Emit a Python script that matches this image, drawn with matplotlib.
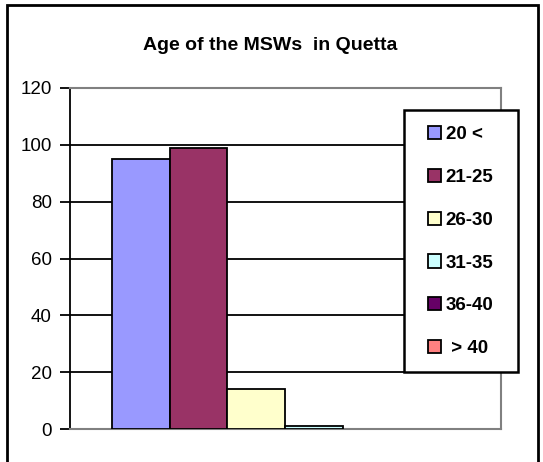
import matplotlib
matplotlib.use("Agg")
import matplotlib.pyplot as plt
from matplotlib.patches import Rectangle, Patch

plt.rcParams['font.family'] = ['Liberation Sans', 'DejaVu Sans']

# data
age_groups = ['20 <', '21-25', '26-30', '31-35', '36-40', ' > 40']
counts = [95, 99, 14, 1, 0, 0]
colors = ['#9999FF', '#993366', '#FFFFCC', '#CCFFFF', '#660066', '#FF8080']
y_ticks = [0, 20, 40, 60, 80, 100, 120]

fig = plt.figure(figsize=(5.43, 4.62), dpi=100)
ax = fig.add_axes([70 / 543, 33 / 462, 431 / 543, 341 / 462])

for i, (val, col) in enumerate(zip(counts, colors)):
    # Excel leaves zero bars invisible
    lw = 1.3 if val > 0 else 0
    ax.bar(i, val, width=1.0, color=col, edgecolor='black', linewidth=lw,
           zorder=3)

ax.set_ylim(0, 120)
ax.set_xlim(-0.5 - 42 / 58, 5.5 + 43 / 58)
ax.set_yticks(y_ticks)
ax.set_yticklabels([str(t) for t in y_ticks], fontsize=13.5)
ax.set_xticks([])
for t in y_ticks[1:-1]:
    ax.axhline(t, color='black', linewidth=1.3, zorder=1)

ax.spines['left'].set_color('black')
ax.spines['left'].set_linewidth(1.3)
for s in ['top', 'right', 'bottom']:
    ax.spines[s].set_color('#808080')
    ax.spines[s].set_linewidth(1.5)
ax.tick_params(axis='y', length=7, width=1.3, direction='out', pad=6)

fig.text(270 / 543, 1 - 45 / 462, 'Age of the MSWs  in Quetta', ha='center',
         va='center', fontsize=14, fontweight='bold')

# legend box drawn by hand, entries placed inside it
fig.patches.append(Rectangle((404 / 543, 1 - 372 / 462), 114 / 543, 262 / 462,
                             transform=fig.transFigure, facecolor='white',
                             edgecolor='black', linewidth=1.8, zorder=4))
handles = [Patch(facecolor=c, edgecolor='black', linewidth=1.3) for c in colors]
leg = fig.legend(handles, age_groups, loc='upper left',
                 bbox_to_anchor=(428 / 543, 1 - 126 / 462),
                 prop={'weight': 'bold', 'size': 13.5},
                 handlelength=0.7, handleheight=0.7, handletextpad=0.25,
                 labelspacing=1.37, borderpad=0, borderaxespad=0,
                 frameon=False)
leg.set_zorder(5)

# outer chart border
fig.patches.append(Rectangle((7 / 543, -0.1), 531 / 543, 1.1 - 5 / 462,
                             transform=fig.transFigure, fill=False,
                             edgecolor='black', linewidth=2))

fig.savefig('out.png', dpi=100)
